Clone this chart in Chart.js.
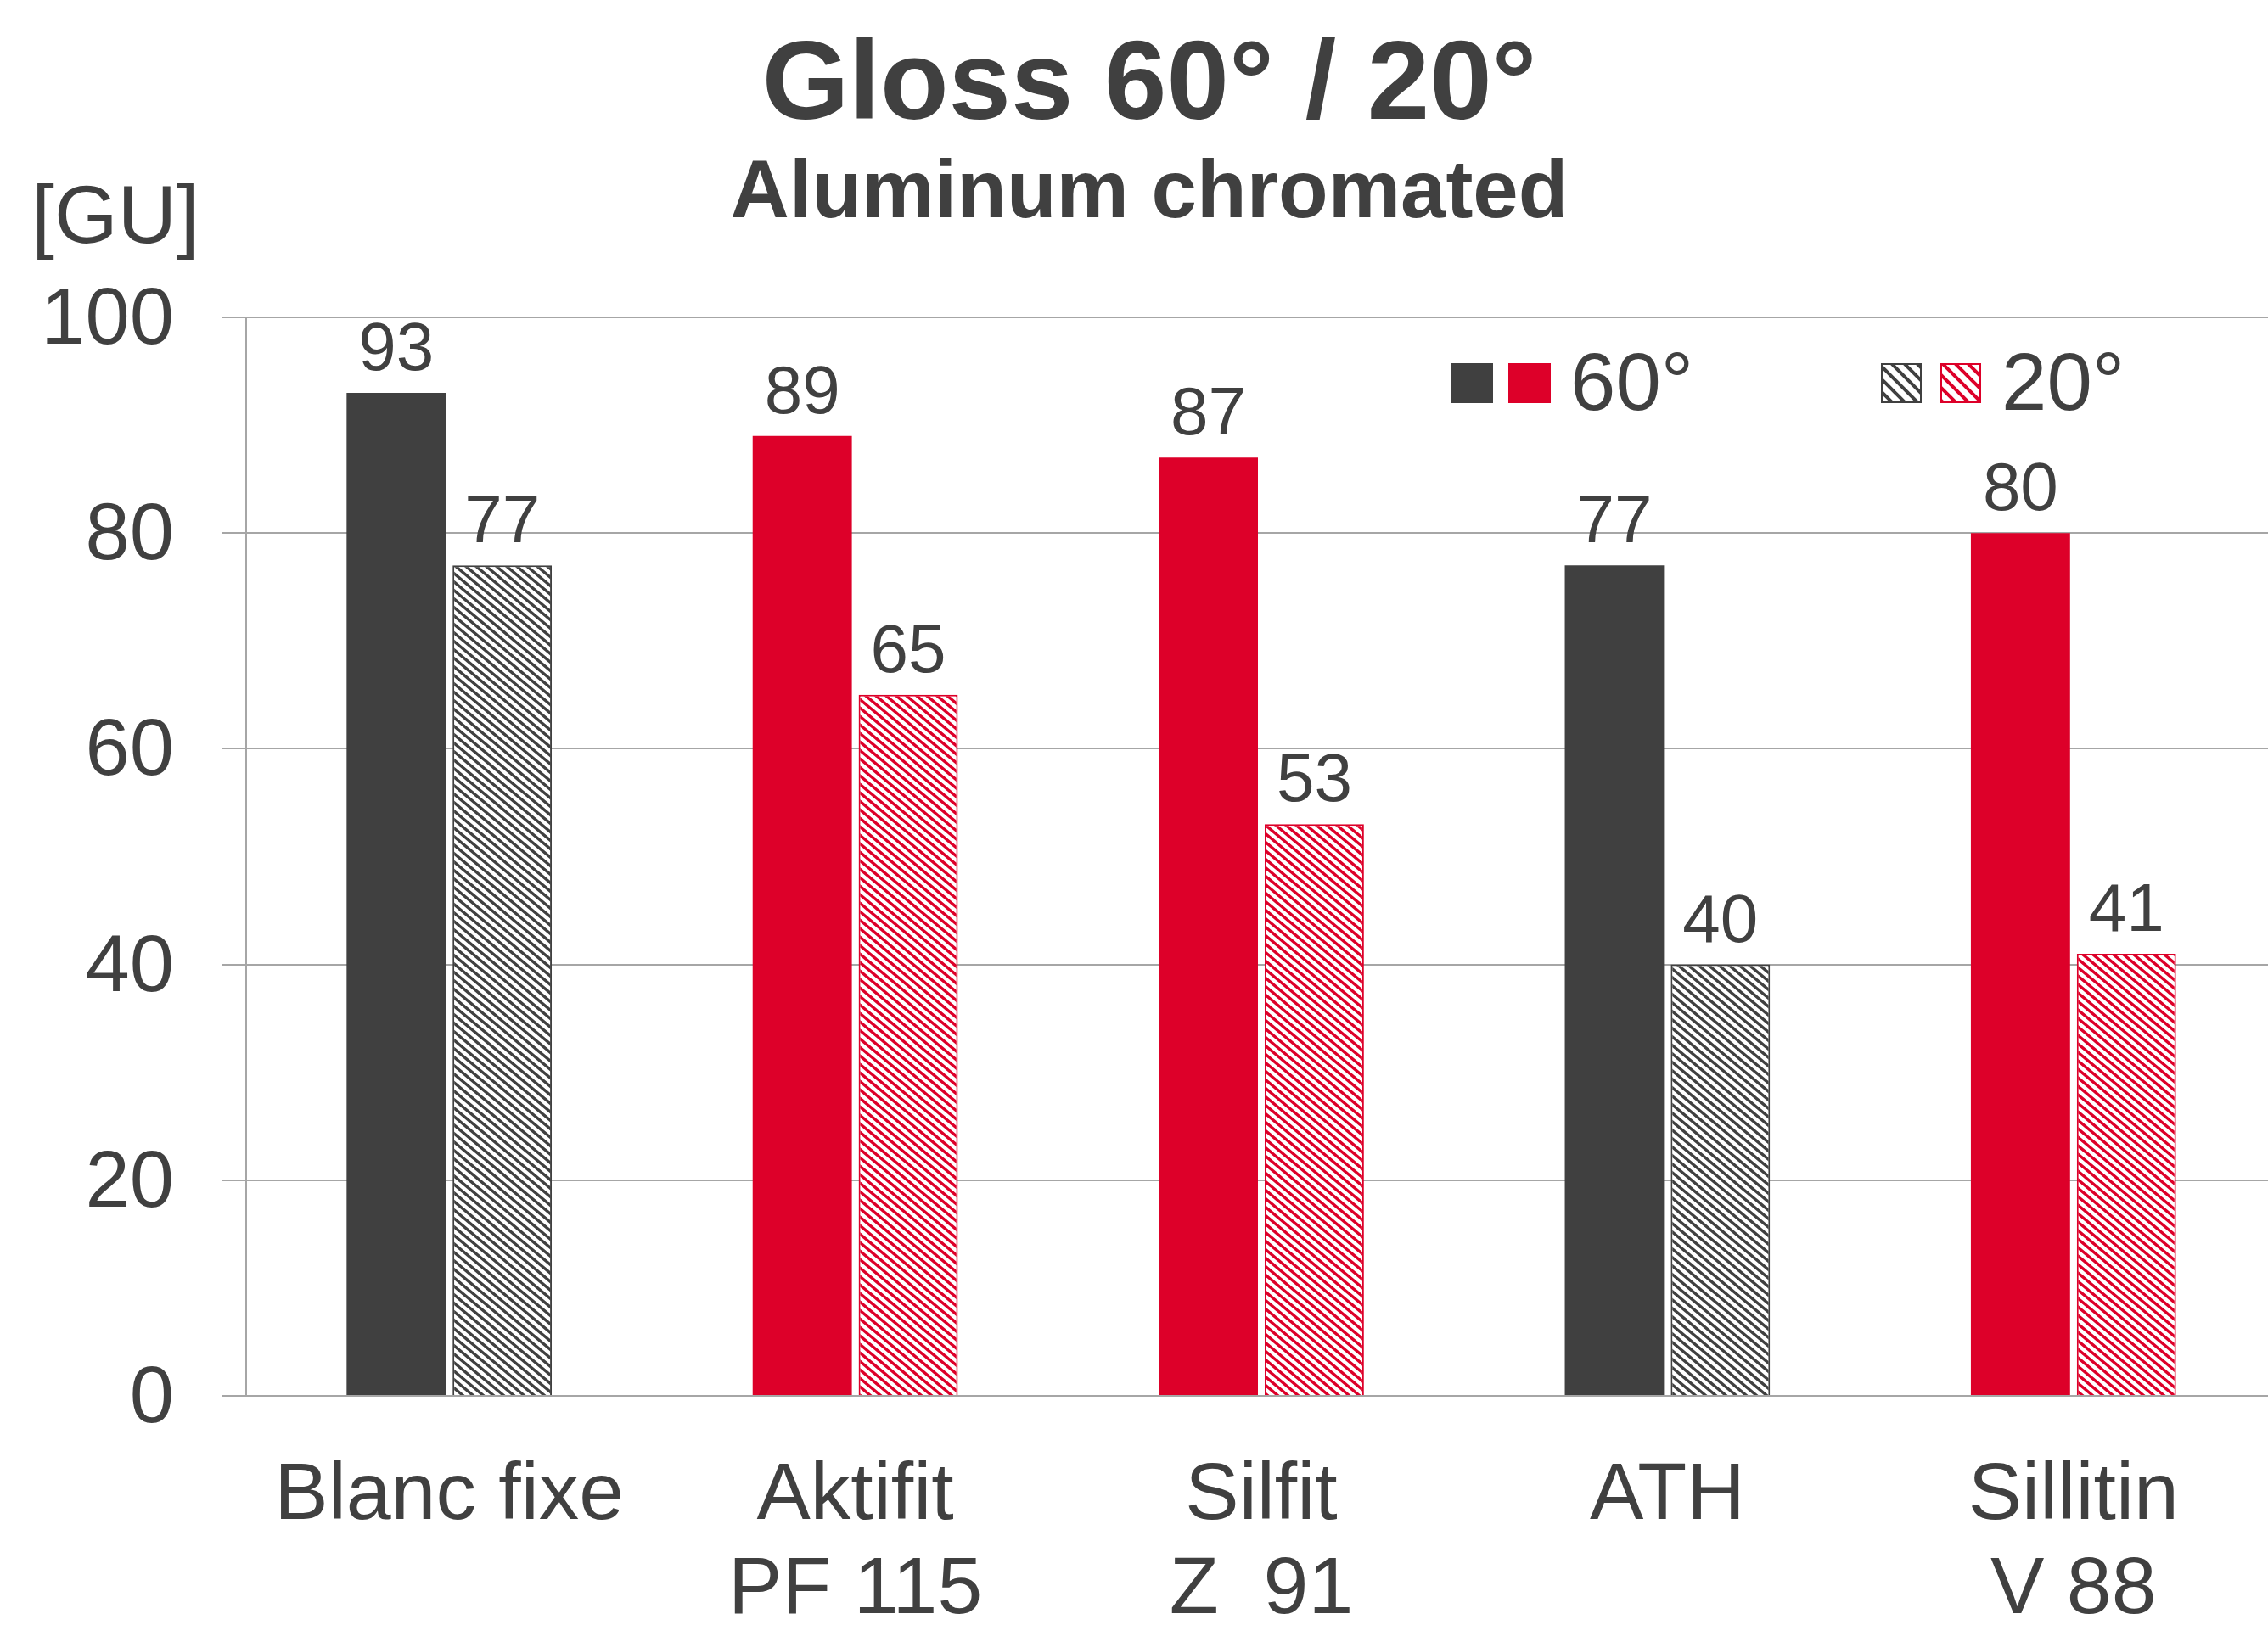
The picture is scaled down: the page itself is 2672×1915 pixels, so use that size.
<!DOCTYPE html>
<html>
<head>
<meta charset="utf-8">
<script src="https://cdn.jsdelivr.net/npm/chart.js@4/dist/chart.umd.min.js"></script>
<style>
  html, body { margin: 0; padding: 0; background: #fff; overflow: hidden; }
</style>
</head>
<body>
<!-- plot runs a little past the right edge in the original, so the canvas is slightly wider than the window -->
<canvas id="glossChart" width="2682" height="1915"></canvas>
<script>
// data
const categories = [['Blanc fixe'], ['Aktifit', 'PF 115'], ['Silfit', 'Z  91'], ['ATH'], ['Sillitin', 'V 88']];
const gloss60 = [93, 89, 87, 77, 80];
const gloss20 = [77, 65, 53, 40, 41];
const barTones = ['dark', 'red', 'red', 'dark', 'red'];
const yTicks = [0, 20, 40, 60, 80, 100];
const seriesNames = ['60°', '20°'];

const FONT = "'Liberation Sans', Arial, sans-serif";
const TEXT = '#404040';
const GRID = '#A6A6A6';
const tones = { dark: '#404040', red: '#DD0029' };

// diagonal "\" hatch tile, w x h
function hatch(color, w, h, lw) {
    const c = document.createElement('canvas');
    c.width = w;
    c.height = h;
    const g = c.getContext('2d');
    g.fillStyle = '#fff';
    g.fillRect(0, 0, w, h);
    g.strokeStyle = color;
    g.lineWidth = lw;
    g.beginPath();
    for (const dx of [-w, 0, w]) {
        for (const dy of [-h, 0, h]) {
            g.moveTo(dx - w, dy - h);
            g.lineTo(dx + 2 * w, dy + 2 * h);
        }
    }
    g.stroke();
    return g.createPattern(c, 'repeat');
}

const ctx = document.getElementById('glossChart').getContext('2d');
const barPatterns = { dark: hatch(tones.dark, 12, 10, 3.4), red: hatch(tones.red, 12, 10, 3.4) };
const legendPatterns = { dark: hatch(tones.dark, 15, 15, 4), red: hatch(tones.red, 15, 15, 4) };

// titles, unit label and the two-swatch legend
const decorations = {
    id: 'decorations',
    afterDraw(chart) {
        const c = chart.ctx;
        c.save();
        c.fillStyle = TEXT;
        c.textAlign = 'center';
        c.textBaseline = 'alphabetic';
        c.font = `bold 132px ${FONT}`;
        c.fillText('Gloss 60° / 20°', 1354, 140);
        c.font = `bold 96px ${FONT}`;
        c.fillText('Aluminum chromated', 1354, 256);
        c.font = `96px ${FONT}`;
        c.fillText('[GU]', 136, 286);

        // legend
        c.fillStyle = tones.dark;
        c.fillRect(1709, 428, 50, 47);
        c.fillStyle = tones.red;
        c.fillRect(1777, 428, 50, 47);
        c.fillStyle = legendPatterns.dark;
        c.fillRect(2216, 428, 48, 47);
        c.strokeStyle = tones.dark;
        c.lineWidth = 2;
        c.strokeRect(2217, 429, 46, 45);
        c.fillStyle = legendPatterns.red;
        c.fillRect(2286, 428, 48, 47);
        c.strokeStyle = tones.red;
        c.strokeRect(2287, 429, 46, 45);
        c.fillStyle = TEXT;
        c.textAlign = 'left';
        c.font = `96px ${FONT}`;
        c.fillText(seriesNames[0], 1850, 483);
        c.fillText(seriesNames[1], 2358, 483);
        c.restore();
    }
};

// value labels above bars
const valueLabels = {
    id: 'valueLabels',
    afterDatasetsDraw(chart) {
        const c = chart.ctx;
        c.save();
        c.fillStyle = TEXT;
        c.font = `80px ${FONT}`;
        c.textAlign = 'center';
        c.textBaseline = 'alphabetic';
        chart.data.datasets.forEach((ds, i) => {
            chart.getDatasetMeta(i).data.forEach((bar, j) => {
                c.fillText(String(ds.data[j]), bar.x, bar.y - 27);
            });
        });
        c.restore();
    }
};

new Chart(ctx, {
    type: 'bar',
    data: {
        labels: categories,
        datasets: [
            {
                label: seriesNames[0],
                data: gloss60,
                backgroundColor: barTones.map(t => tones[t]),
                borderWidth: 0,
                categoryPercentage: 0.522,
                barPercentage: 0.936
            },
            {
                label: seriesNames[1],
                data: gloss20,
                backgroundColor: barTones.map(t => barPatterns[t]),
                borderColor: barTones.map(t => tones[t]),
                borderWidth: 2,
                categoryPercentage: 0.522,
                barPercentage: 0.936
            }
        ]
    },
    options: {
        responsive: false,
        animation: false,
        devicePixelRatio: 1,
        layout: { padding: { top: 374, left: 0, right: 0, bottom: 0 } },
        plugins: {
            legend: { display: false },
            title: { display: false },
            tooltip: { enabled: false }
        },
        scales: {
            x: {
                grid: { display: false, drawTicks: false },
                border: { display: true, color: GRID, width: 2 },
                ticks: {
                    color: TEXT,
                    font: { family: FONT, size: 95, lineHeight: 1.16 },
                    padding: 64,
                    maxRotation: 0,
                    autoSkip: false
                },
                afterFit(scale) { scale.height = 270; }
            },
            y: {
                min: 0,
                max: 100,
                afterBuildTicks(scale) { scale.ticks = yTicks.map(v => ({ value: v })); },
                grid: { color: GRID, lineWidth: 2, tickLength: 28, drawTicks: true },
                border: { display: true, color: GRID, width: 2 },
                ticks: {
                    color: TEXT,
                    font: { family: FONT, size: 94 },
                    padding: 57,
                    labelOffset: 5
                },
                afterFit(scale) { scale.width = 290; }
            }
        }
    },
    plugins: [valueLabels, decorations]
});
</script>
</body>
</html>
